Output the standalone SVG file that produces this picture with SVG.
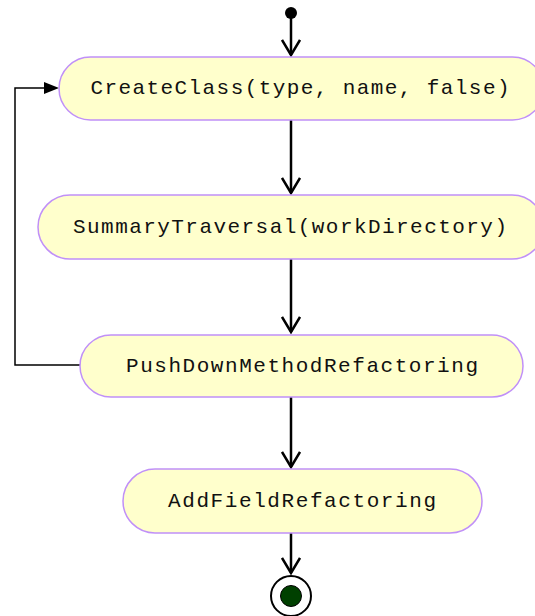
<svg xmlns="http://www.w3.org/2000/svg" width="535" height="616" viewBox="0 0 535 616">
<style>
.node rect{fill:#ffffcc;stroke:#c090f8;stroke-width:1.5}
.node text{font-family:"Liberation Mono","Courier New",monospace;font-size:21px;fill:#111;text-anchor:middle}
.flow{stroke:#000;stroke-width:2.5;fill:none}
.loop{stroke:#000;stroke-width:1.5;fill:none}
</style>
<defs>
<marker id="open" markerWidth="20" markerHeight="20" refX="16" refY="10" orient="auto" markerUnits="userSpaceOnUse" viewBox="0 0 20 20">
<path d="M1,1 L16,10 L1,19" fill="none" stroke="#000" stroke-width="2.5"/>
</marker>
</defs>
<rect width="535" height="616" fill="#fff"/>
<g id="connectors">
<circle cx="291" cy="13" r="6" fill="#000"/>
<line class="flow" x1="291" y1="17" x2="291" y2="55" marker-end="url(#open)"/>
<line class="flow" x1="291" y1="120" x2="291" y2="193" marker-end="url(#open)"/>
<line class="flow" x1="291" y1="259" x2="291" y2="332" marker-end="url(#open)"/>
<line class="flow" x1="291" y1="397" x2="291" y2="467" marker-end="url(#open)"/>
<line class="flow" x1="291" y1="533" x2="291" y2="573" marker-end="url(#open)"/>
<polyline class="loop" points="80,365 15,365 15,88 45,88"/>
<polygon points="44,82 59,88 44,94" fill="#000"/>
</g>
<g id="node1" class="node">
<rect x="59" y="57" width="485" height="63" rx="31.5"/>
<text x="300" y="94" textLength="419" lengthAdjust="spacing">CreateClass(type, name, false)</text>
</g>
<g id="node2" class="node">
<rect x="38" y="195" width="506" height="64" rx="32"/>
<text x="290" y="233" textLength="434" lengthAdjust="spacing">SummaryTraversal(workDirectory)</text>
</g>
<g id="node3" class="node">
<rect x="80" y="335" width="443" height="62" rx="31"/>
<text x="302" y="372" textLength="352" lengthAdjust="spacing">PushDownMethodRefactoring</text>
</g>
<g id="node4" class="node">
<rect x="123" y="469" width="359" height="64" rx="32"/>
<text x="302" y="507" textLength="268" lengthAdjust="spacing">AddFieldRefactoring</text>
</g>
<g id="end">
<circle cx="291" cy="596" r="20" fill="#fff" stroke="#000" stroke-width="2"/>
<circle cx="291" cy="596" r="10.5" fill="#004000" stroke="#000" stroke-width="1"/>
</g>
</svg>
